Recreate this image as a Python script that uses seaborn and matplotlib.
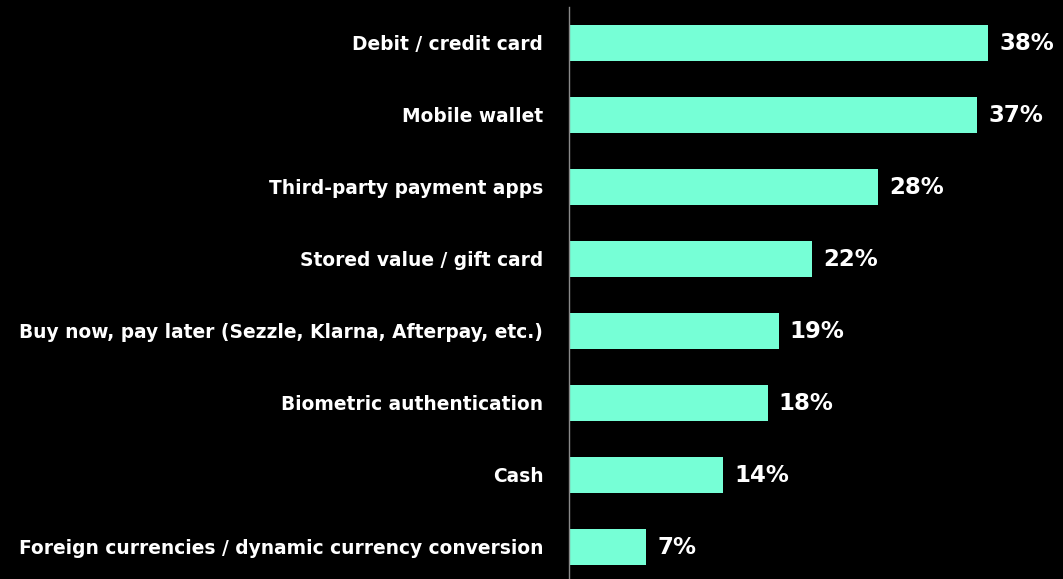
import matplotlib
matplotlib.use("Agg")
import matplotlib.pyplot as plt
import seaborn as sns
import pandas as pd

methods = [
    "Debit / credit card",
    "Mobile wallet",
    "Third-party payment apps",
    "Stored value / gift card",
    "Buy now, pay later (Sezzle, Klarna, Afterpay, etc.)",
    "Biometric authentication",
    "Cash",
    "Foreign currencies / dynamic currency conversion",
]
shares = [38, 37, 28, 22, 19, 18, 14, 7]

df = pd.DataFrame({"method": methods, "share": shares})

sns.set_theme(style="white")
plt.rcParams["font.family"] = ["DejaVu Sans"]

fig = plt.figure(figsize=(10.63, 5.79), dpi=100, facecolor="black")
ax = fig.add_axes([569 / 1063, -4 / 579, 1 - 569 / 1063, 576 / 579])
ax.set_facecolor("black")

sns.barplot(data=df, x="share", y="method", color="#76FFD6", width=0.5,
            saturation=1, linewidth=0, ax=ax)

ax.set_xlim(0, (1063 - 569) / 11.03)
ax.set_ylim(len(methods) - 0.5, -0.5)

for i, v in enumerate(shares):
    ax.annotate(f"{v}%", (v, i), xytext=(8, 0), textcoords="offset points",
                ha="left", va="center", color="white", fontsize=16.5,
                fontweight="bold")

ax.set_xlabel("")
ax.set_ylabel("")
ax.set_xticks([])
ax.tick_params(axis="y", length=0, pad=18.5, labelsize=13.4, labelcolor="white")
for lbl in ax.get_yticklabels():
    lbl.set_fontweight("bold")

for side in ["top", "right", "bottom"]:
    ax.spines[side].set_visible(False)
ax.spines["left"].set_color("#8a8a8a")
ax.spines["left"].set_linewidth(1.0)

fig.savefig("out.png", dpi=100, facecolor="black")
